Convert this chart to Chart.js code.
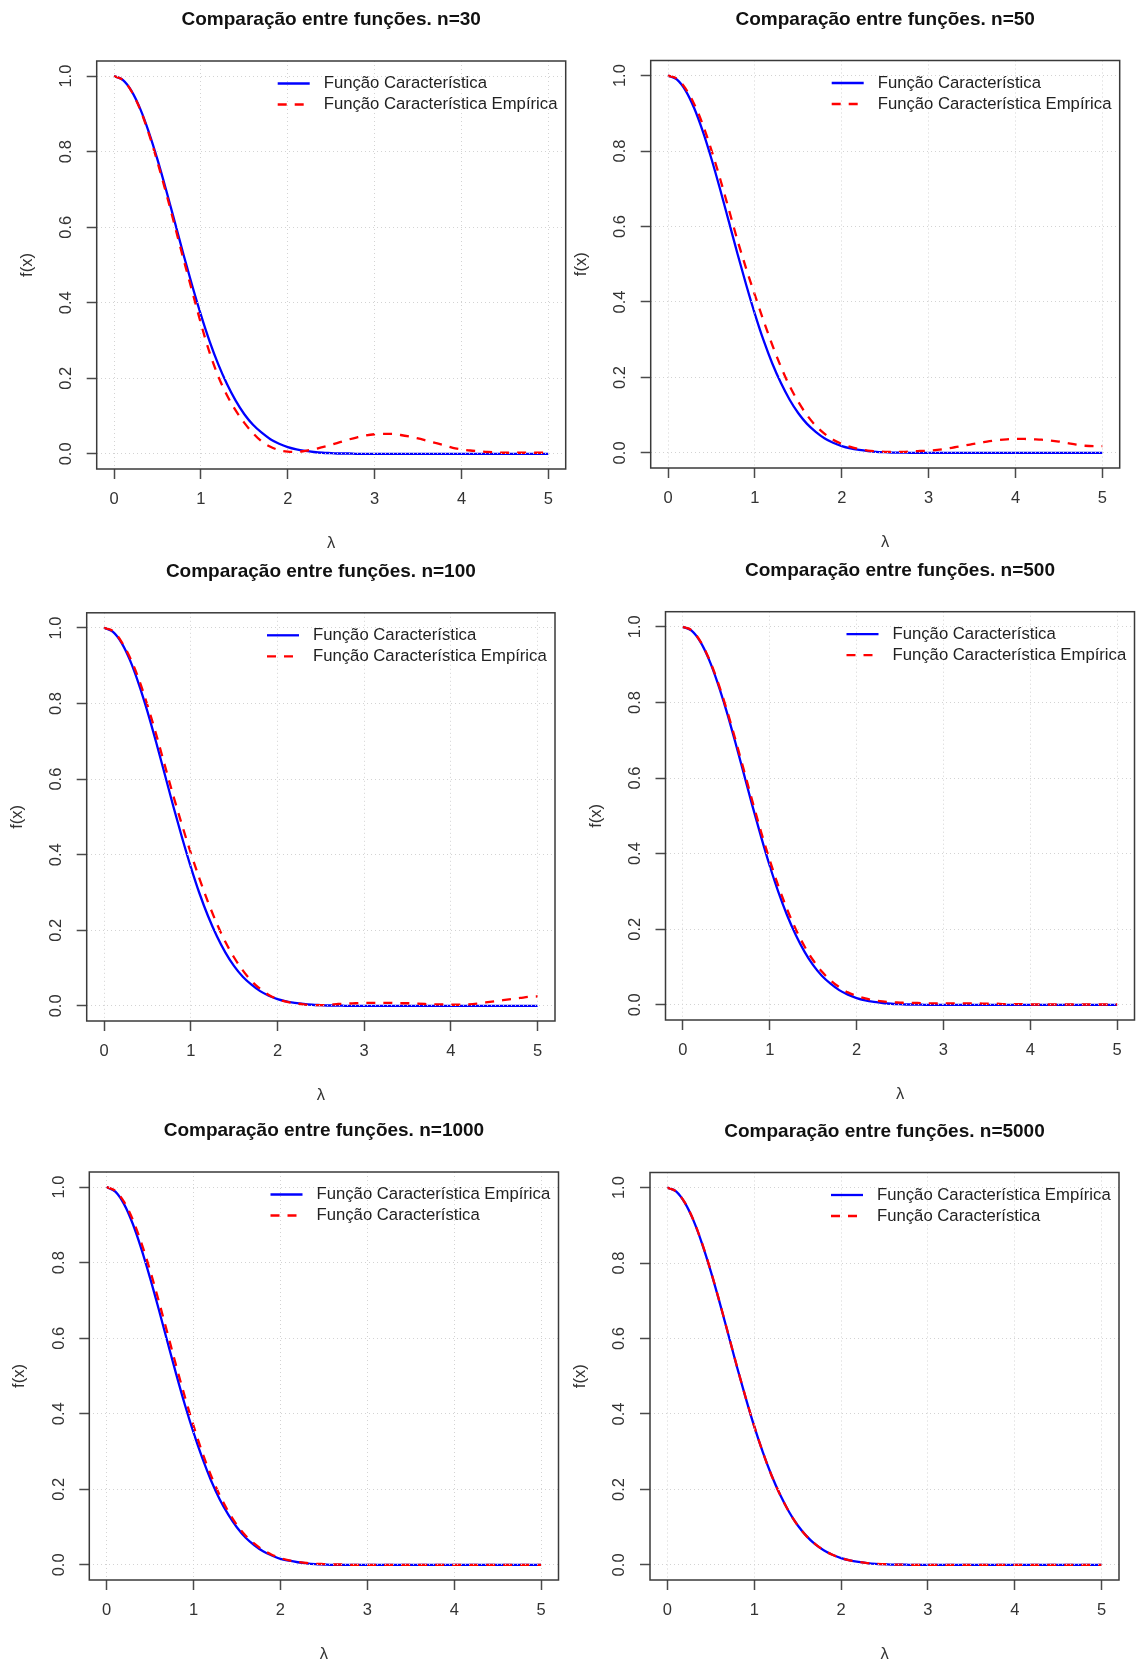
<!DOCTYPE html>
<html>
<head>
<meta charset="utf-8">
<script src="https://cdn.jsdelivr.net/npm/chart.js@4.4.1/dist/chart.umd.min.js"></script>
<style>
html,body{margin:0;padding:0;background:#fff;}
body{width:1138px;height:1663px;position:relative;overflow:hidden;}
canvas{position:absolute;}
</style>
</head>
<body>
<script>
// ---------- data ----------
const lambda = [0,0.1,0.2,0.3,0.4,0.5,0.6,0.7,0.8,0.9,1,1.1,1.2,1.3,1.4,1.5,1.6,1.7,1.8,1.9,2,2.1,2.2,2.3,2.4,2.5,2.6,2.7,2.8,2.9,3,3.1,3.2,3.3,3.4,3.5,3.6,3.7,3.8,3.9,4,4.1,4.2,4.3,4.4,4.5,4.6,4.7,4.8,4.9,5];

const funcaoCaracteristica = [1.000,0.990,0.961,0.914,0.852,0.779,0.698,0.613,0.527,0.445,0.368,0.298,0.237,0.185,0.141,0.105,0.077,0.056,0.039,0.027,0.018,0.012,0.008,0.005,0.003,0.002,0.001,0.001,0,0,0,0,0,0,0,0,0,0,0,0,0,0,0,0,0,0,0,0,0,0,0];

const empirica30 = [1.000,0.990,0.960,0.912,0.848,0.772,0.690,0.603,0.515,0.430,0.345,0.268,0.205,0.155,0.115,0.082,0.055,0.033,0.019,0.010,0.006,0.005,0.008,0.012,0.018,0.024,0.031,0.038,0.044,0.049,0.052,0.053,0.053,0.050,0.046,0.041,0.035,0.029,0.023,0.016,0.012,0.009,0.007,0.005,0.004,0.003,0.003,0.003,0.003,0.003,0.003];

const empirica50 = [1.000,0.992,0.966,0.925,0.870,0.802,0.726,0.645,0.563,0.488,0.418,0.350,0.286,0.228,0.177,0.135,0.100,0.072,0.051,0.035,0.024,0.016,0.010,0.006,0.004,0.003,0.003,0.003,0.004,0.005,0.006,0.008,0.011,0.015,0.019,0.023,0.027,0.031,0.034,0.036,0.037,0.037,0.036,0.035,0.033,0.030,0.026,0.022,0.019,0.018,0.018];

const empirica100 = [1.000,0.992,0.964,0.921,0.865,0.796,0.719,0.637,0.555,0.478,0.405,0.337,0.274,0.218,0.169,0.128,0.094,0.066,0.045,0.029,0.018,0.011,0.007,0.004,0.002,0.002,0.003,0.005,0.006,0.007,0.008,0.008,0.008,0.008,0.007,0.007,0.006,0.005,0.004,0.004,0.003,0.003,0.004,0.006,0.009,0.012,0.015,0.018,0.021,0.024,0.025];

const empirica500 = [1.000,0.991,0.962,0.916,0.856,0.785,0.706,0.623,0.539,0.458,0.383,0.314,0.253,0.200,0.155,0.118,0.088,0.065,0.047,0.033,0.024,0.017,0.012,0.009,0.007,0.006,0.005,0.005,0.004,0.004,0.004,0.004,0.004,0.004,0.004,0.003,0.003,0.002,0.002,0.002,0.001,0.001,0.001,0.001,0.001,0.001,0.001,0.001,0.001,0.001,0.001];

const empirica1000 = [1.000,0.988,0.955,0.903,0.836,0.759,0.676,0.590,0.505,0.424,0.350,0.283,0.224,0.174,0.133,0.099,0.072,0.052,0.036,0.025,0.016,0.011,0.007,0.004,0.002,0.001,0,0,0,0,0,0,0,0,0,0,0,0,0,0,0,0,0,0,0,0,0,0,0,0,0];

const empirica5000 = [1.000,0.990,0.960,0.913,0.851,0.778,0.697,0.612,0.526,0.444,0.367,0.298,0.237,0.185,0.141,0.105,0.077,0.055,0.039,0.027,0.018,0.012,0.008,0.005,0.003,0.002,0.001,0.001,0,0,0,0,0,0,0,0,0,0,0,0,0,0,0,0,0,0,0,0,0,0,0];

const sampleSizes = [30, 50, 100, 500, 1000, 5000];
const xTickValues = [0, 1, 2, 3, 4, 5];
const xTickLabels = ['0', '1', '2', '3', '4', '5'];
const yTickValues = [0, 0.2, 0.4, 0.6, 0.8, 1.0];
const yTickLabels = ['0.0', '0.2', '0.4', '0.6', '0.8', '1.0'];
const labelTeorica = 'Função Característica';
const labelEmpirica = 'Função Característica Empírica';
const titlePrefix = 'Comparação entre funções. n=';
const xAxisTitle = 'λ';
const yAxisTitle = 'f(x)';

// which series is solid blue / dashed red in each panel
const panelSeries = [
  {blue: funcaoCaracteristica, blueLabel: labelTeorica, red: empirica30,   redLabel: labelEmpirica},
  {blue: funcaoCaracteristica, blueLabel: labelTeorica, red: empirica50,   redLabel: labelEmpirica},
  {blue: funcaoCaracteristica, blueLabel: labelTeorica, red: empirica100,  redLabel: labelEmpirica},
  {blue: funcaoCaracteristica, blueLabel: labelTeorica, red: empirica500,  redLabel: labelEmpirica},
  {blue: empirica1000, blueLabel: labelEmpirica, red: funcaoCaracteristica, redLabel: labelTeorica},
  {blue: empirica5000, blueLabel: labelEmpirica, red: funcaoCaracteristica, redLabel: labelTeorica}
];

// ---------- layout (page pixels of each plot frame) ----------
const frames = [
  {L: 96.7,  T: 61.0,   W: 469.0, H: 407.7},
  {L: 650.7, T: 60.5,   W: 469.0, H: 407.2},
  {L: 86.7,  T: 612.8,  W: 468.3, H: 407.5},
  {L: 665.5, T: 611.7,  W: 469.0, H: 408.0},
  {L: 89.3,  T: 1172.0, W: 469.2, H: 407.3},
  {L: 650.0, T: 1172.5, W: 469.0, H: 407.5}
];

Chart.defaults.font.family = '"Liberation Sans", Arial, sans-serif';
Chart.defaults.color = '#333';

const frameBox = {
  id: 'frameBox',
  afterDraw(chart) {
    const {ctx, chartArea: a} = chart;
    ctx.save();
    ctx.strokeStyle = '#3a3a3a';
    ctx.lineWidth = 1.5;
    ctx.setLineDash([]);
    ctx.strokeRect(a.left, a.top, a.right - a.left, a.bottom - a.top);
    ctx.restore();
  }
};

const insideLegend = {
  id: 'insideLegend',
  afterDraw(chart) {
    const {ctx, chartArea: a} = chart;
    const ds = chart.data.datasets;
    ctx.save();
    ctx.font = '16.7px "Liberation Sans", Arial, sans-serif';
    ctx.textBaseline = 'middle';
    ctx.textAlign = 'left';
    const textX = a.right - 242;
    ds.forEach((d, k) => {
      const y = a.top + 22.5 + k * 21;
      ctx.strokeStyle = d.borderColor;
      ctx.lineWidth = d.borderWidth;
      ctx.lineCap = 'butt';
      ctx.setLineDash(d.borderDash || []);
      ctx.beginPath();
      ctx.moveTo(textX - 46, y);
      ctx.lineTo(textX - 14, y);
      ctx.stroke();
      ctx.setLineDash([]);
      ctx.fillStyle = '#222';
      ctx.fillText(d.label, textX, y);
    });
    ctx.restore();
  }
};

function points(values) {
  return lambda.map((x, k) => ({x: x, y: values[k]}));
}

frames.forEach((f, i) => {
  const s = panelSeries[i];
  const canvasLeft = Math.round(f.L - 97);
  const canvasTop = Math.round(f.T - 61);
  const yAxisW = f.L - canvasLeft;
  const topH = f.T - canvasTop;
  const bottomH = 90;
  const rightPad = 12;
  const cw = Math.ceil(yAxisW + f.W + rightPad);
  const ch = Math.ceil(topH + f.H + bottomH);

  const canvas = document.createElement('canvas');
  canvas.width = cw;
  canvas.height = ch;
  canvas.style.left = canvasLeft + 'px';
  canvas.style.top = canvasTop + 'px';
  canvas.style.width = cw + 'px';
  canvas.style.height = ch + 'px';
  document.body.appendChild(canvas);

  const gridOpts = {
    color: '#d3d3d3', lineWidth: 1, z: 1,
    drawTicks: true, tickLength: 10, tickColor: '#4a4a4a', tickWidth: 1.5, tickBorderDash: []
  };

  new Chart(canvas, {
    type: 'line',
    data: {
      datasets: [
        {label: s.blueLabel, data: points(s.blue), borderColor: '#0000ff', backgroundColor: '#0000ff',
         borderWidth: 2.3, pointRadius: 0, fill: false, cubicInterpolationMode: 'monotone', order: 1},
        {label: s.redLabel, data: points(s.red), borderColor: '#ff0000', backgroundColor: '#ff0000',
         borderWidth: 2.3, borderDash: [9, 8], borderCapStyle: 'butt', pointRadius: 0, fill: false,
         cubicInterpolationMode: 'monotone', order: 0}
      ]
    },
    options: {
      responsive: false,
      animation: false,
      events: [],
      layout: {padding: {left: 0, top: 0, right: cw - yAxisW - f.W, bottom: 0}},
      plugins: {
        legend: {display: false},
        tooltip: {enabled: false},
        title: {
          display: true, fullSize: false,
          text: titlePrefix + sampleSizes[i],
          color: '#111',
          font: {size: 19, weight: 'bold', lineHeight: 1.2},
          padding: {top: topH - 41 - 11.4, bottom: 41 - 11.4}
        }
      },
      scales: {
        x: {
          type: 'linear', min: -0.2, max: 5.2,
          afterBuildTicks: (sc) => { sc.ticks = xTickValues.map(v => ({value: v})); },
          afterFit: (sc) => { sc.height = bottomH; },
          ticks: {autoSkip: false, maxRotation: 0, minRotation: 0, padding: 11, color: '#333',
                  font: {size: 16.5}, callback: (v, idx) => xTickLabels[idx]},
          grid: gridOpts,
          border: {display: false, dash: [1, 3]},
          title: {display: true, text: xAxisTitle, color: '#333', font: {size: 16.5, lineHeight: 1.2},
                  padding: {top: 0, bottom: 5.4}}
        },
        y: {
          type: 'linear', min: -0.04, max: 1.04,
          afterBuildTicks: (sc) => { sc.ticks = yTickValues.map(v => ({value: v})); },
          afterFit: (sc) => { sc.width = yAxisW; },
          ticks: {autoSkip: false, minRotation: 90, maxRotation: 90, crossAlign: 'center', padding: 8.6,
                  color: '#333', font: {size: 16.5}, callback: (v, idx) => yTickLabels[idx]},
          grid: gridOpts,
          border: {display: false, dash: [1, 3]},
          title: {display: true, text: yAxisTitle, color: '#333', font: {size: 16.5, lineHeight: 1.2},
                  padding: {top: yAxisW - 69.4 - 9.9, bottom: 0}}
        }
      }
    },
    plugins: [frameBox, insideLegend]
  });
});
</script>
</body>
</html>
